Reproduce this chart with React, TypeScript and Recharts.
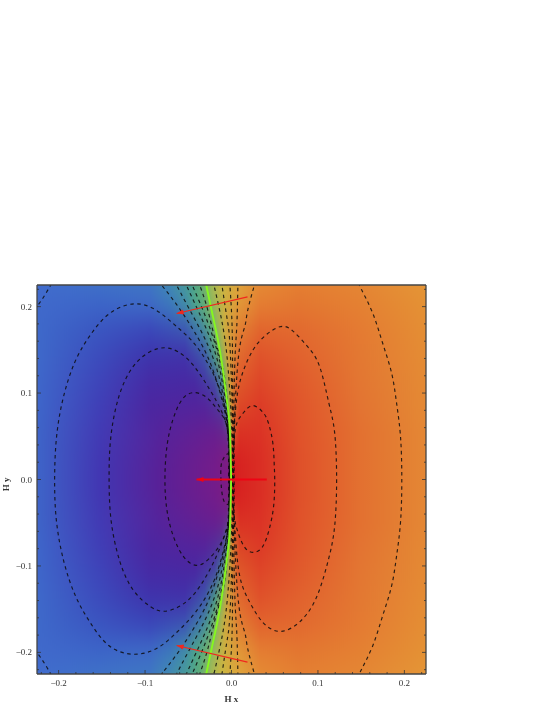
import { ComposedChart, Line, Scatter, XAxis, YAxis, Label } from 'recharts';

const WIDTH = 545;
const HEIGHT = 705;
const PLOT_SIZE = 389;
const MIN = -0.225;
const MAX = 0.225;

const tickValues = [-0.22, -0.2, -0.18, -0.16, -0.14, -0.12, -0.1, -0.08, -0.06, -0.04, -0.02, 0, 0.02, 0.04, 0.06, 0.08, 0.1, 0.12, 0.14, 0.16, 0.18, 0.2, 0.22];
const majorTicks = [-0.2, -0.1, 0, 0.1, 0.2];

// colour bands of the field, upper half (each row: x position, colour)
type Stop = [number, string];
const topEdgeStops: Stop[] = [[-0.225, '#406ccd'], [-0.0943, '#3e78c3'], [-0.0712, '#418caf'], [-0.0482, '#4b9f90'], [-0.0366, '#5fac78'], [-0.0285, '#8eb85e'], [-0.0135, '#c8b941'], [0.0096, '#dea53c'], [0.0327, '#e48c34'], [0.0789, '#e48032'], [0.1505, '#e48734'], [0.225, '#e49637']];
const upperRows: { y: number; stops: Stop[] }[] = [
  { y: 0.26, stops: topEdgeStops },
  { y: 0.23, stops: topEdgeStops },
  { y: 0.2, stops: [[-0.225, '#4069cb'], [-0.1521, '#3c64c8'], [-0.0943, '#3e69c6'], [-0.0712, '#3c78be'], [-0.0539, '#418caa'], [-0.0424, '#4ba58c'], [-0.0308, '#62ae74'], [-0.0227, '#8fb85f'], [-0.0077, '#cdaf41'], [0.0096, '#e19637'], [0.0327, '#e47d32'], [0.0789, '#e37630'], [0.1481, '#e48032'], [0.225, '#e49134']] },
  { y: 0.17, stops: [[-0.225, '#3e69ca'], [-0.1521, '#3a55c0'], [-0.0943, '#3a46b9'], [-0.0539, '#3c55b4'], [-0.0366, '#3e7daa'], [-0.0251, '#50a285'], [-0.017, '#8eb65e'], [-0.0077, '#cdaa3e'], [0.0096, '#e17d32'], [0.0327, '#e1642d'], [0.0789, '#e2692f'], [0.1481, '#e47a32'], [0.225, '#e48e34']] },
  { y: 0.14, stops: [[-0.225, '#3e69ca'], [-0.1521, '#3c4bbc'], [-0.0943, '#3e34ac'], [-0.0539, '#4132aa'], [-0.0308, '#3e55ac'], [-0.0193, '#469b87'], [-0.0112, '#8ab458'], [-0.0043, '#d2a03c'], [0.0096, '#e1692e'], [0.0327, '#df522a'], [0.0789, '#e1622e'], [0.1481, '#e37832'], [0.225, '#e48c34']] },
  { y: 0.11, stops: [[-0.225, '#3e67ca'], [-0.1521, '#3e44b9'], [-0.0943, '#462aa5'], [-0.0424, '#4828a2'], [-0.0193, '#4446a5'], [-0.0112, '#418c96'], [-0.0066, '#86b458'], [-0.002, '#d29637'], [0.0073, '#de5a2a'], [0.0327, '#de4628'], [0.0789, '#e05a2c'], [0.1481, '#e37632'], [0.225, '#e48a34']] },
  { y: 0.08, stops: [[-0.225, '#3e66ca'], [-0.1521, '#403eb6'], [-0.0943, '#4c26a0'], [-0.0308, '#55239b'], [-0.0112, '#50379b'], [-0.0054, '#468296'], [-0.0031, '#96c346'], [0.0003, '#d78232'], [0.0096, '#dc4626'], [0.0327, '#dc3a26'], [0.0789, '#e0552b'], [0.1481, '#e37332'], [0.225, '#e48934']] },
  { y: 0.05, stops: [[-0.225, '#3e64c8'], [-0.1521, '#423ab4'], [-0.0828, '#55239b'], [-0.0193, '#691e8f'], [-0.0054, '#69288c'], [-0.002, '#507896'], [-0.0008, '#aac346'], [0.0015, '#d75a28'], [0.0096, '#da3023'], [0.0327, '#db3225'], [0.0789, '#e0522a'], [0.1481, '#e37030'], [0.225, '#e48734']] },
  { y: 0.02, stops: [[-0.225, '#3e64c8'], [-0.1521, '#4237b2'], [-0.0828, '#582198'], [-0.0193, '#731c8a'], [-0.0014, '#821c80'], [0.0003, '#d21e23'], [0.0096, '#d72321'], [0.0327, '#da2d24'], [0.0789, '#df502a'], [0.1481, '#e37030'], [0.225, '#e48734']] },
];
const centreRow: Stop[] = [[-0.225, '#3e64c8'], [-0.1521, '#4236b2'], [-0.0828, '#592097'], [-0.0193, '#741c8a'], [-0.0014, '#7d1c82'], [0.0003, '#d41c20'], [0.0096, '#d72220'], [0.0327, '#da2d24'], [0.0789, '#df502a'], [0.1481, '#e37030'], [0.225, '#e48734']];

const heatRows = [
  ...upperRows,
  ...[...upperRows].reverse().map((r) => ({ y: -r.y, stops: r.stops })),
  { y: 0, stops: centreRow },
].map((r, i) => ({ ...r, x: MIN, id: `heat-row-${i}` }));

// the bright boundary
const boundaryLine = [[-0.0303, 0.23], [-0.0231, 0.196], [-0.0158, 0.162], [-0.01, 0.127], [-0.0043, 0.084], [-0.002, 0.058], [-0.0008, 0.02], [-0.0005, 0], [-0.0008, -0.02], [-0.002, -0.058], [-0.0043, -0.084], [-0.01, -0.127], [-0.0158, -0.162], [-0.0231, -0.196], [-0.0303, -0.23]];

// dashed contours
const contours: number[][][] = [
  // left loops
  [[-0.002, 0.03], [-0.0058, 0.0289], [-0.0109, 0.0208], [-0.0124, 0.008], [-0.0115, -0.0115], [-0.0085, -0.0254], [-0.0043, -0.0289], [-0.002, -0.03]],
  [[-0.003, 0.04], [-0.0065, 0.0658], [-0.0158, 0.0805], [-0.0285, 0.0947], [-0.0437, 0.1005], [-0.0572, 0.0924], [-0.0678, 0.0693], [-0.0747, 0.0381], [-0.077, 0], [-0.0745, -0.0366], [-0.0665, -0.0678], [-0.0549, -0.09], [-0.0411, -0.0993], [-0.0271, -0.0927], [-0.0132, -0.0753], [-0.0053, -0.0567], [-0.003, -0.04]],
  [[-0.003, 0.045], [-0.0053, 0.0612], [-0.0122, 0.0804], [-0.0251, 0.1039], [-0.0447, 0.1328], [-0.062, 0.1478], [-0.077, 0.1524], [-0.0943, 0.1478], [-0.1139, 0.1305], [-0.1303, 0.0959], [-0.1397, 0.0481], [-0.1416, 0], [-0.1392, -0.0481], [-0.1293, -0.0943], [-0.1139, -0.1276], [-0.0943, -0.1467], [-0.077, -0.1524], [-0.0562, -0.1443], [-0.0366, -0.1236], [-0.0175, -0.0889], [-0.0059, -0.0577], [-0.003, -0.045]],
  [[-0.003, 0.05], [-0.0064, 0.0774], [-0.018, 0.1155], [-0.0401, 0.1536], [-0.0632, 0.1767], [-0.0863, 0.1953], [-0.1117, 0.2032], [-0.1405, 0.1925], [-0.1636, 0.1667], [-0.1813, 0.1356], [-0.1948, 0.0939], [-0.2025, 0.0481], [-0.2046, 0], [-0.2025, -0.0481], [-0.1938, -0.0955], [-0.1803, -0.1351], [-0.1637, -0.1651], [-0.142, -0.192], [-0.114, -0.2021], [-0.0863, -0.1953], [-0.0632, -0.1767], [-0.0417, -0.1536], [-0.0196, -0.1155], [-0.0064, -0.0693], [-0.003, -0.05]],
  // left corners
  [[-0.228, 0.196], [-0.2168, 0.212], [-0.2075, 0.228]],
  [[-0.228, -0.196], [-0.2168, -0.212], [-0.2075, -0.228]],
  // left fan
  [[-0.085, 0.23], [-0.0632, 0.202], [-0.0424, 0.17], [-0.0227, 0.13], [-0.0074, 0.077], [-0.0035, 0.035], [-0.0035, -0.035], [-0.0074, -0.077], [-0.0227, -0.13], [-0.0424, -0.17], [-0.0632, -0.202], [-0.085, -0.23]],
  [[-0.0662, 0.23], [-0.0482, 0.196], [-0.0285, 0.158], [-0.0135, 0.115], [-0.0058, 0.069], [-0.003, 0.029], [-0.003, -0.029], [-0.0058, -0.069], [-0.0135, -0.115], [-0.0285, -0.158], [-0.0482, -0.196], [-0.0662, -0.23]],
  [[-0.0546, 0.23], [-0.0389, 0.196], [-0.0227, 0.158], [-0.011, 0.115], [-0.0048, 0.069], [-0.0027, 0.029], [-0.0027, -0.029], [-0.0048, -0.069], [-0.011, -0.115], [-0.0227, -0.158], [-0.0389, -0.196], [-0.0546, -0.23]],
  [[-0.0477, 0.23], [-0.0331, 0.196], [-0.0193, 0.158], [-0.0092, 0.115], [-0.004, 0.069], [-0.0024, 0.029], [-0.0024, -0.029], [-0.004, -0.069], [-0.0092, -0.115], [-0.0193, -0.158], [-0.0331, -0.196], [-0.0477, -0.23]],
  [[-0.0386, 0.23], [-0.0274, 0.196], [-0.018, 0.158], [-0.0085, 0.121], [-0.0034, 0.069], [-0.002, 0.029], [-0.002, -0.029], [-0.0034, -0.069], [-0.0085, -0.121], [-0.018, -0.158], [-0.0274, -0.196], [-0.0386, -0.23]],
  // right fan
  [[-0.0215, 0.23], [-0.01, 0.177], [-0.0038, 0.127], [-0.0002, 0.069], [0.001, 0.023], [0.001, -0.023], [-0.0002, -0.069], [-0.0038, -0.127], [-0.01, -0.177], [-0.0215, -0.23]],
  [[-0.0118, 0.23], [-0.0054, 0.188], [-0.002, 0.159], [0.0006, 0.092], [0.0015, 0.03], [0.0015, -0.03], [0.0006, -0.092], [-0.002, -0.159], [-0.0054, -0.188], [-0.0118, -0.23]],
  [[-0.0022, 0.23], [0.0003, 0.188], [0.0012, 0.14], [0.0015, 0.069], [0.002, 0.03], [0.002, -0.03], [0.0015, -0.069], [0.0012, -0.14], [0.0003, -0.188], [-0.0022, -0.23]],
  [[0.0075, 0.23], [0.0061, 0.177], [0.004, 0.139], [0.0025, 0.069], [0.0025, 0.03], [0.0025, -0.03], [0.0025, -0.069], [0.004, -0.139], [0.0061, -0.177], [0.0075, -0.23]],
  [[0.028, 0.23], [0.0188, 0.196], [0.0154, 0.177], [0.0083, 0.144], [0.0035, 0.069], [0.003, 0.03], [0.003, -0.03], [0.0035, -0.069], [0.0083, -0.144], [0.0154, -0.177], [0.0188, -0.196], [0.028, -0.23]],
  // right loops
  [[0.002, 0.03], [0.0035, 0.05], [0.0065, 0.066], [0.014, 0.0775], [0.0246, 0.0855], [0.0361, 0.078], [0.0425, 0.066], [0.0477, 0.043], [0.0494, 0.018], [0.05, 0], [0.0488, -0.03], [0.0435, -0.058], [0.0361, -0.0775], [0.0259, -0.0843], [0.0153, -0.0785], [0.0071, -0.06], [0.0035, -0.045], [0.002, -0.03]],
  [[0.0028, 0.04], [0.0037, 0.0677], [0.0071, 0.1005], [0.014, 0.1266], [0.0246, 0.1494], [0.0385, 0.166], [0.0558, 0.1767], [0.0708, 0.172], [0.0881, 0.1536], [0.102, 0.1305], [0.1125, 0.0889], [0.1193, 0.0543], [0.1216, 0], [0.1193, -0.0543], [0.1122, -0.0924], [0.1007, -0.1305], [0.087, -0.1559], [0.0708, -0.1709], [0.0535, -0.1755], [0.0361, -0.1651], [0.0211, -0.142], [0.0096, -0.112], [0.0048, -0.0693], [0.0028, -0.04]],
  [[0.147, 0.2275], [0.1505, 0.2194], [0.1632, 0.1928], [0.1747, 0.1582], [0.1851, 0.1236], [0.1909, 0.0889], [0.1955, 0.0497], [0.197, 0], [0.1955, -0.0497], [0.1909, -0.0889], [0.1851, -0.1236], [0.1747, -0.1582], [0.1632, -0.1928], [0.1505, -0.2194], [0.147, -0.2275]],
];

const arrows = [
  { color: '#f0281e', width: 1.2, points: [[0.0185, 0.2113], [-0.0635, 0.192]] },
  { color: '#f0281e', width: 1.2, points: [[0.0185, -0.2113], [-0.0635, -0.192]] },
  { color: '#ee0414', width: 1.9, points: [[0.0408, 0], [-0.0405, 0]] },
];

const toPoints = (pts: number[][]) => pts.map(([x, y]) => ({ x, y }));

function HeatRow(props: any) {
  const { cx, cy, payload } = props;
  const bandHeight = (0.034 * PLOT_SIZE) / (MAX - MIN);
  return (
    <g>
      <defs>
        <linearGradient id={payload.id}>
          {payload.stops.map(([x, color]: Stop) => (
            <stop key={x} offset={(x - MIN) / (MAX - MIN)} stopColor={color} />
          ))}
        </linearGradient>
      </defs>
      <rect x={cx} y={cy - bandHeight / 2} width={PLOT_SIZE} height={bandHeight} fill={`url(#${payload.id})`} />
    </g>
  );
}

const isMajor = (v: number) => majorTicks.includes(v);
const fmt = (v: number) => (v < 0 ? `\u2212${Math.abs(v).toFixed(1)}` : v.toFixed(1));
const textStyle = { fontFamily: '"Liberation Serif"', fontSize: 9, fill: '#333' };

// ticks point into the frame; dx/dy is the inward direction
function FrameTick({ x, y, payload, dx, dy, labelled }: any) {
  const len = isMajor(payload.value) ? 4 : 2;
  return (
    <g>
      <line x1={x} y1={y} x2={x + dx * len} y2={y + dy * len} stroke="#333" strokeWidth={0.8} />
      {labelled && isMajor(payload.value) && (
        dy !== 0 ? (
          <text x={x} y={y + 12} textAnchor="middle" style={textStyle}>{fmt(payload.value)}</text>
        ) : (
          <text x={x - 5} y={y + 3} textAnchor="end" style={textStyle}>{fmt(payload.value)}</text>
        )
      )}
    </g>
  );
}

function arrowHead(points: number[][], color: string) {
  const angle = (Math.atan2(points[0][1] - points[1][1], points[1][0] - points[0][0]) * 180) / Math.PI;
  return (props: any) => {
    if (props.index !== 1) return <g key={props.index} />;
    return (
      <polygon
        key={props.index}
        points="0,0 7,-2.6 7,2.6"
        fill={color}
        transform={`translate(${props.cx},${props.cy}) rotate(${angle + 180})`}
      />
    );
  };
}

export default function App() {
  const axisProps = {
    type: 'number' as const,
    domain: [MIN, MAX],
    ticks: tickValues,
    allowDataOverflow: true,
    tickLine: false,
    tickSize: 0,
    tickMargin: 0,
    interval: 0 as const,
    axisLine: { stroke: '#444', strokeWidth: 1.3 },
  };
  return (
    <div style={{ position: 'absolute', left: 0, top: 0, width: WIDTH, height: HEIGHT, background: '#fff', overflow: 'hidden', filter: 'blur(0.35px)' }}>
      <style>{`.heat-field { filter: url(#heatBlur); }`}</style>
      <ComposedChart width={WIDTH} height={HEIGHT} margin={{ top: 284, left: 36, right: WIDTH - 37 - PLOT_SIZE - 1, bottom: HEIGHT - 285 - PLOT_SIZE - 1 }}>
        <defs>
          <filter id="heatBlur" filterUnits="userSpaceOnUse" x="0" y="0" width={WIDTH} height={HEIGHT} colorInterpolationFilters="sRGB">
            <feGaussianBlur stdDeviation="0 11" />
          </filter>
        </defs>
        <XAxis {...axisProps} dataKey="x" height={1} tick={(p: any) => <FrameTick {...p} dx={0} dy={-1} labelled />}>
          <Label value="H x" position="bottom" offset={21} style={{ ...textStyle, fontWeight: 'bold' }} />
        </XAxis>
        <YAxis {...axisProps} dataKey="y" width={1} tick={(p: any) => <FrameTick {...p} dx={1} dy={0} labelled />}>
          <Label value="H y" position="left" offset={30} angle={-90} dy={-2} style={{ ...textStyle, fontWeight: 'bold' }} />
        </YAxis>
        <XAxis {...axisProps} xAxisId="top" orientation="top" height={1} tick={(p: any) => <FrameTick {...p} dx={0} dy={1} />} />
        <YAxis {...axisProps} yAxisId="right" orientation="right" width={1} tick={(p: any) => <FrameTick {...p} dx={-1} dy={0} />} />

        <Scatter className="heat-field" data={heatRows} shape={HeatRow} isAnimationActive={false} zIndex={-50} />
        {contours.map((c, i) => (
          <Line key={i} data={toPoints(c)} dataKey="y" type="natural" stroke="#0c0c0c" strokeOpacity={0.85} strokeWidth={1.15} strokeDasharray="3.5 3.5" dot={false} isAnimationActive={false} />
        ))}
        <Line data={toPoints(boundaryLine)} dataKey="y" type="natural" stroke="#86f81e" strokeWidth={1.9} dot={false} isAnimationActive={false} />
        {arrows.map((a, i) => (
          <Line key={`arrow-${i}`} data={toPoints(a.points)} dataKey="y" type="linear" stroke={a.color} strokeWidth={a.width} dot={arrowHead(a.points, a.color)} isAnimationActive={false} />
        ))}
      </ComposedChart>
    </div>
  );
}
